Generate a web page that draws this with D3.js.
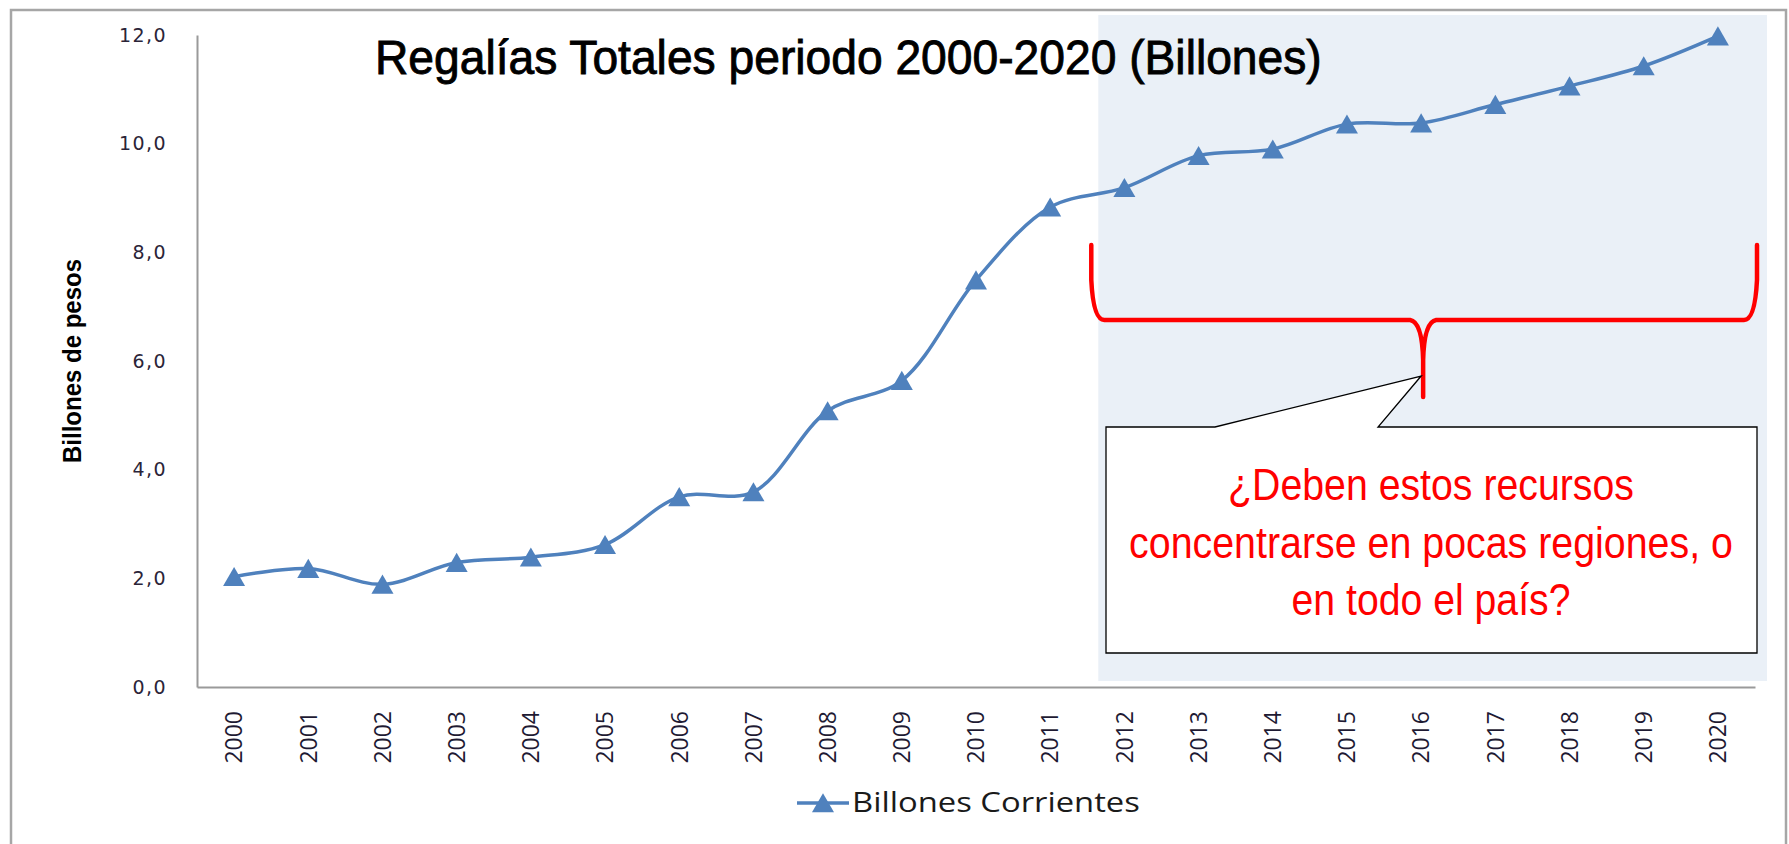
<!DOCTYPE html>
<html>
<head>
<meta charset="utf-8">
<script src="https://cdn.jsdelivr.net/npm/d3@7"></script>
<style>
  body { margin: 0; background: #fff; }
  svg { display: block; }
</style>
</head>
<body>
<svg id="chart" width="1789" height="844"></svg>
<script>
// data
var years = ["2000","2001","2002","2003","2004","2005","2006","2007","2008","2009","2010",
             "2011","2012","2013","2014","2015","2016","2017","2018","2019","2020"];
var billones = [2.03, 2.18, 1.89, 2.29, 2.39, 2.62, 3.50, 3.59, 5.08, 5.64, 7.49,
                8.83, 9.19, 9.78, 9.90, 10.36, 10.38, 10.72, 11.06, 11.43, 11.98];
var yTicks = [0, 2, 4, 6, 8, 10, 12];
var titleText = "Regalías Totales periodo 2000-2020 (Billones)";
var yTitle = "Billones de pesos";
var seriesName = "Billones Corrientes";
var calloutLines = ["¿Deben estos recursos", "concentrarse en pocas regiones, o", "en todo el país?"];
var calloutWidths = [406, 604, 279];

var svg = d3.select("#chart");
var blue = "#4F81BD";

var x = d3.scaleBand().domain(years).range([197, 1755]).padding(0);
var y = d3.scaleLinear().domain([0, 12]).range([687, 35]);
function cx(d){ return x(d) + x.bandwidth()/2; }

// squeeze a text horizontally so it spans "w" pixels (narrow fonts are not installed)
function fitWidth(sel, tx, ty, w){
    sel.each(function(){
        var natural = this.getComputedTextLength();
        var sx = w / natural;
        d3.select(this).attr("transform", "translate(" + tx + "," + ty + ") scale(" + sx + ",1)");
    });
}

// outer frame
svg.append("rect")
    .attr("x", 11).attr("y", 10)
    .attr("width", 1775).attr("height", 900)
    .attr("fill", "#fff")
    .attr("stroke", "#A6A6A6").attr("stroke-width", 2.5);

// highlighted period 2012-2020
svg.append("rect")
    .attr("x", x("2012") + 11).attr("y", 15)
    .attr("width", 1767 - (x("2012") + 11))
    .attr("height", y(0) - 6 - 15)
    .attr("fill", "#EAF0F7");

// axes
var yAxis = d3.axisLeft(y).tickValues(yTicks).tickSize(0).tickPadding(30)
    .tickFormat(function(d){ return d.toFixed(1).replace(".", ","); });
var gy = svg.append("g").attr("transform", "translate(197,0)").call(yAxis);
gy.select(".domain").attr("stroke", "#9A9A9A").attr("stroke-width", 2);
gy.selectAll("text")
    .attr("font-family", "Verdana, 'DejaVu Sans', sans-serif")
    .attr("font-size", 19).attr("letter-spacing", 1.4)
    .attr("fill", "#2b2438");

var xAxis = d3.axisBottom(x).tickSize(0);
var gx = svg.append("g").attr("transform", "translate(0," + y(0) + ")").call(xAxis);
gx.select(".domain").attr("stroke", "#9A9A9A").attr("stroke-width", 2);
gx.selectAll("text")
    .attr("transform", "rotate(-90)")
    .attr("text-anchor", "end")
    .attr("x", -24).attr("y", 0).attr("dy", "0.36em")
    .attr("font-family", "'Open Sans', sans-serif")
    .attr("font-size", 23)
    .attr("fill", "#1e1a33");

// y axis title
svg.append("text")
    .attr("transform", "translate(81,361) rotate(-90)")
    .attr("text-anchor", "middle")
    .attr("font-family", "'Liberation Sans', 'Open Sans', sans-serif")
    .attr("font-weight", "bold")
    .attr("font-size", 25)
    .attr("textLength", 204).attr("lengthAdjust", "spacingAndGlyphs")
    .text(yTitle);

// title
svg.append("text")
    .attr("font-family", "'Liberation Sans', sans-serif")
    .attr("font-size", 49)
    .attr("fill", "#000").attr("stroke", "#000").attr("stroke-width", 0.9)
    .text(titleText)
    .call(fitWidth, 375, 74, 947);

// the series
var pts = years.map(function(d, i){ return [cx(d), y(billones[i])]; });
var line = d3.line().curve(d3.curveCatmullRom.alpha(0.5));
svg.append("path")
    .attr("d", line(pts))
    .attr("fill", "none")
    .attr("stroke", blue).attr("stroke-width", 3.5);

// triangle markers, box-centred on the point like the spreadsheet does
var tri = d3.symbol().type(d3.symbolTriangle).size(210);
svg.selectAll(".marker").data(pts).enter().append("path")
    .attr("class", "marker")
    .attr("transform", function(p){ return "translate(" + p[0] + "," + (p[1] + 3) + ")"; })
    .attr("d", tri)
    .attr("fill", blue);

// red brace over 2012-2020
var bl = x("2012") + 4, br = x("2020") + x.bandwidth() + 2, bm = cx("2016") + 2;
var bTop = 245, bMid = 320, bTip = 397;
var brace = "M" + bl + "," + bTop + " L" + bl + "," + (bMid - 40) +
    " Q" + (bl + 2) + "," + bMid + " " + (bl + 13) + "," + bMid +
    " L" + (bm - 13) + "," + bMid +
    " Q" + (bm - 1) + "," + (bMid + 2) + " " + bm + "," + (bMid + 40) +
    " L" + bm + "," + bTip +
    " M" + bm + "," + (bMid + 40) +
    " Q" + (bm + 1) + "," + (bMid + 2) + " " + (bm + 13) + "," + bMid +
    " L" + (br - 13) + "," + bMid +
    " Q" + (br - 2) + "," + bMid + " " + br + "," + (bMid - 40) +
    " L" + br + "," + bTop;
svg.append("path")
    .attr("d", brace)
    .attr("fill", "none")
    .attr("stroke", "#FF0000").attr("stroke-width", 4.5)
    .attr("stroke-linecap", "round").attr("stroke-linejoin", "round");

// callout box
var boxL = 1106, boxR = 1757, boxT = 427, boxB = 653;
var callout = "M" + boxL + "," + boxT + " L1215," + boxT + " L" + (bm - 2) + ",376 L1378," + boxT +
    " L" + boxR + "," + boxT + " L" + boxR + "," + boxB + " L" + boxL + "," + boxB + " Z";
svg.append("path")
    .attr("d", callout)
    .attr("fill", "#fff")
    .attr("stroke", "#000").attr("stroke-width", 1.3);

calloutLines.forEach(function(txt, i){
    svg.append("text")
        .attr("class", "callout")
        .attr("text-anchor", "middle")
        .attr("font-family", "'Liberation Sans', sans-serif")
        .attr("font-size", 45)
        .attr("fill", "#FF0000")
        .text(txt)
        .call(fitWidth, 1431, 500 + i * 57.5, calloutWidths[i]);
});

// legend
var lg = svg.append("g").attr("transform", "translate(797,803)");
lg.append("line").attr("x1", 0).attr("x2", 52).attr("y1", 0).attr("y2", 0)
    .attr("stroke", blue).attr("stroke-width", 3.5);
lg.append("path").attr("transform", "translate(26,3)").attr("d", tri).attr("fill", blue);
lg.append("text")
    .attr("dy", "0.35em")
    .attr("font-family", "'Open Sans', sans-serif")
    .attr("font-size", 27)
    .attr("fill", "#1a1a1a")
    .text(seriesName)
    .call(fitWidth, 55, 0, 288);
</script>
</body>
</html>
